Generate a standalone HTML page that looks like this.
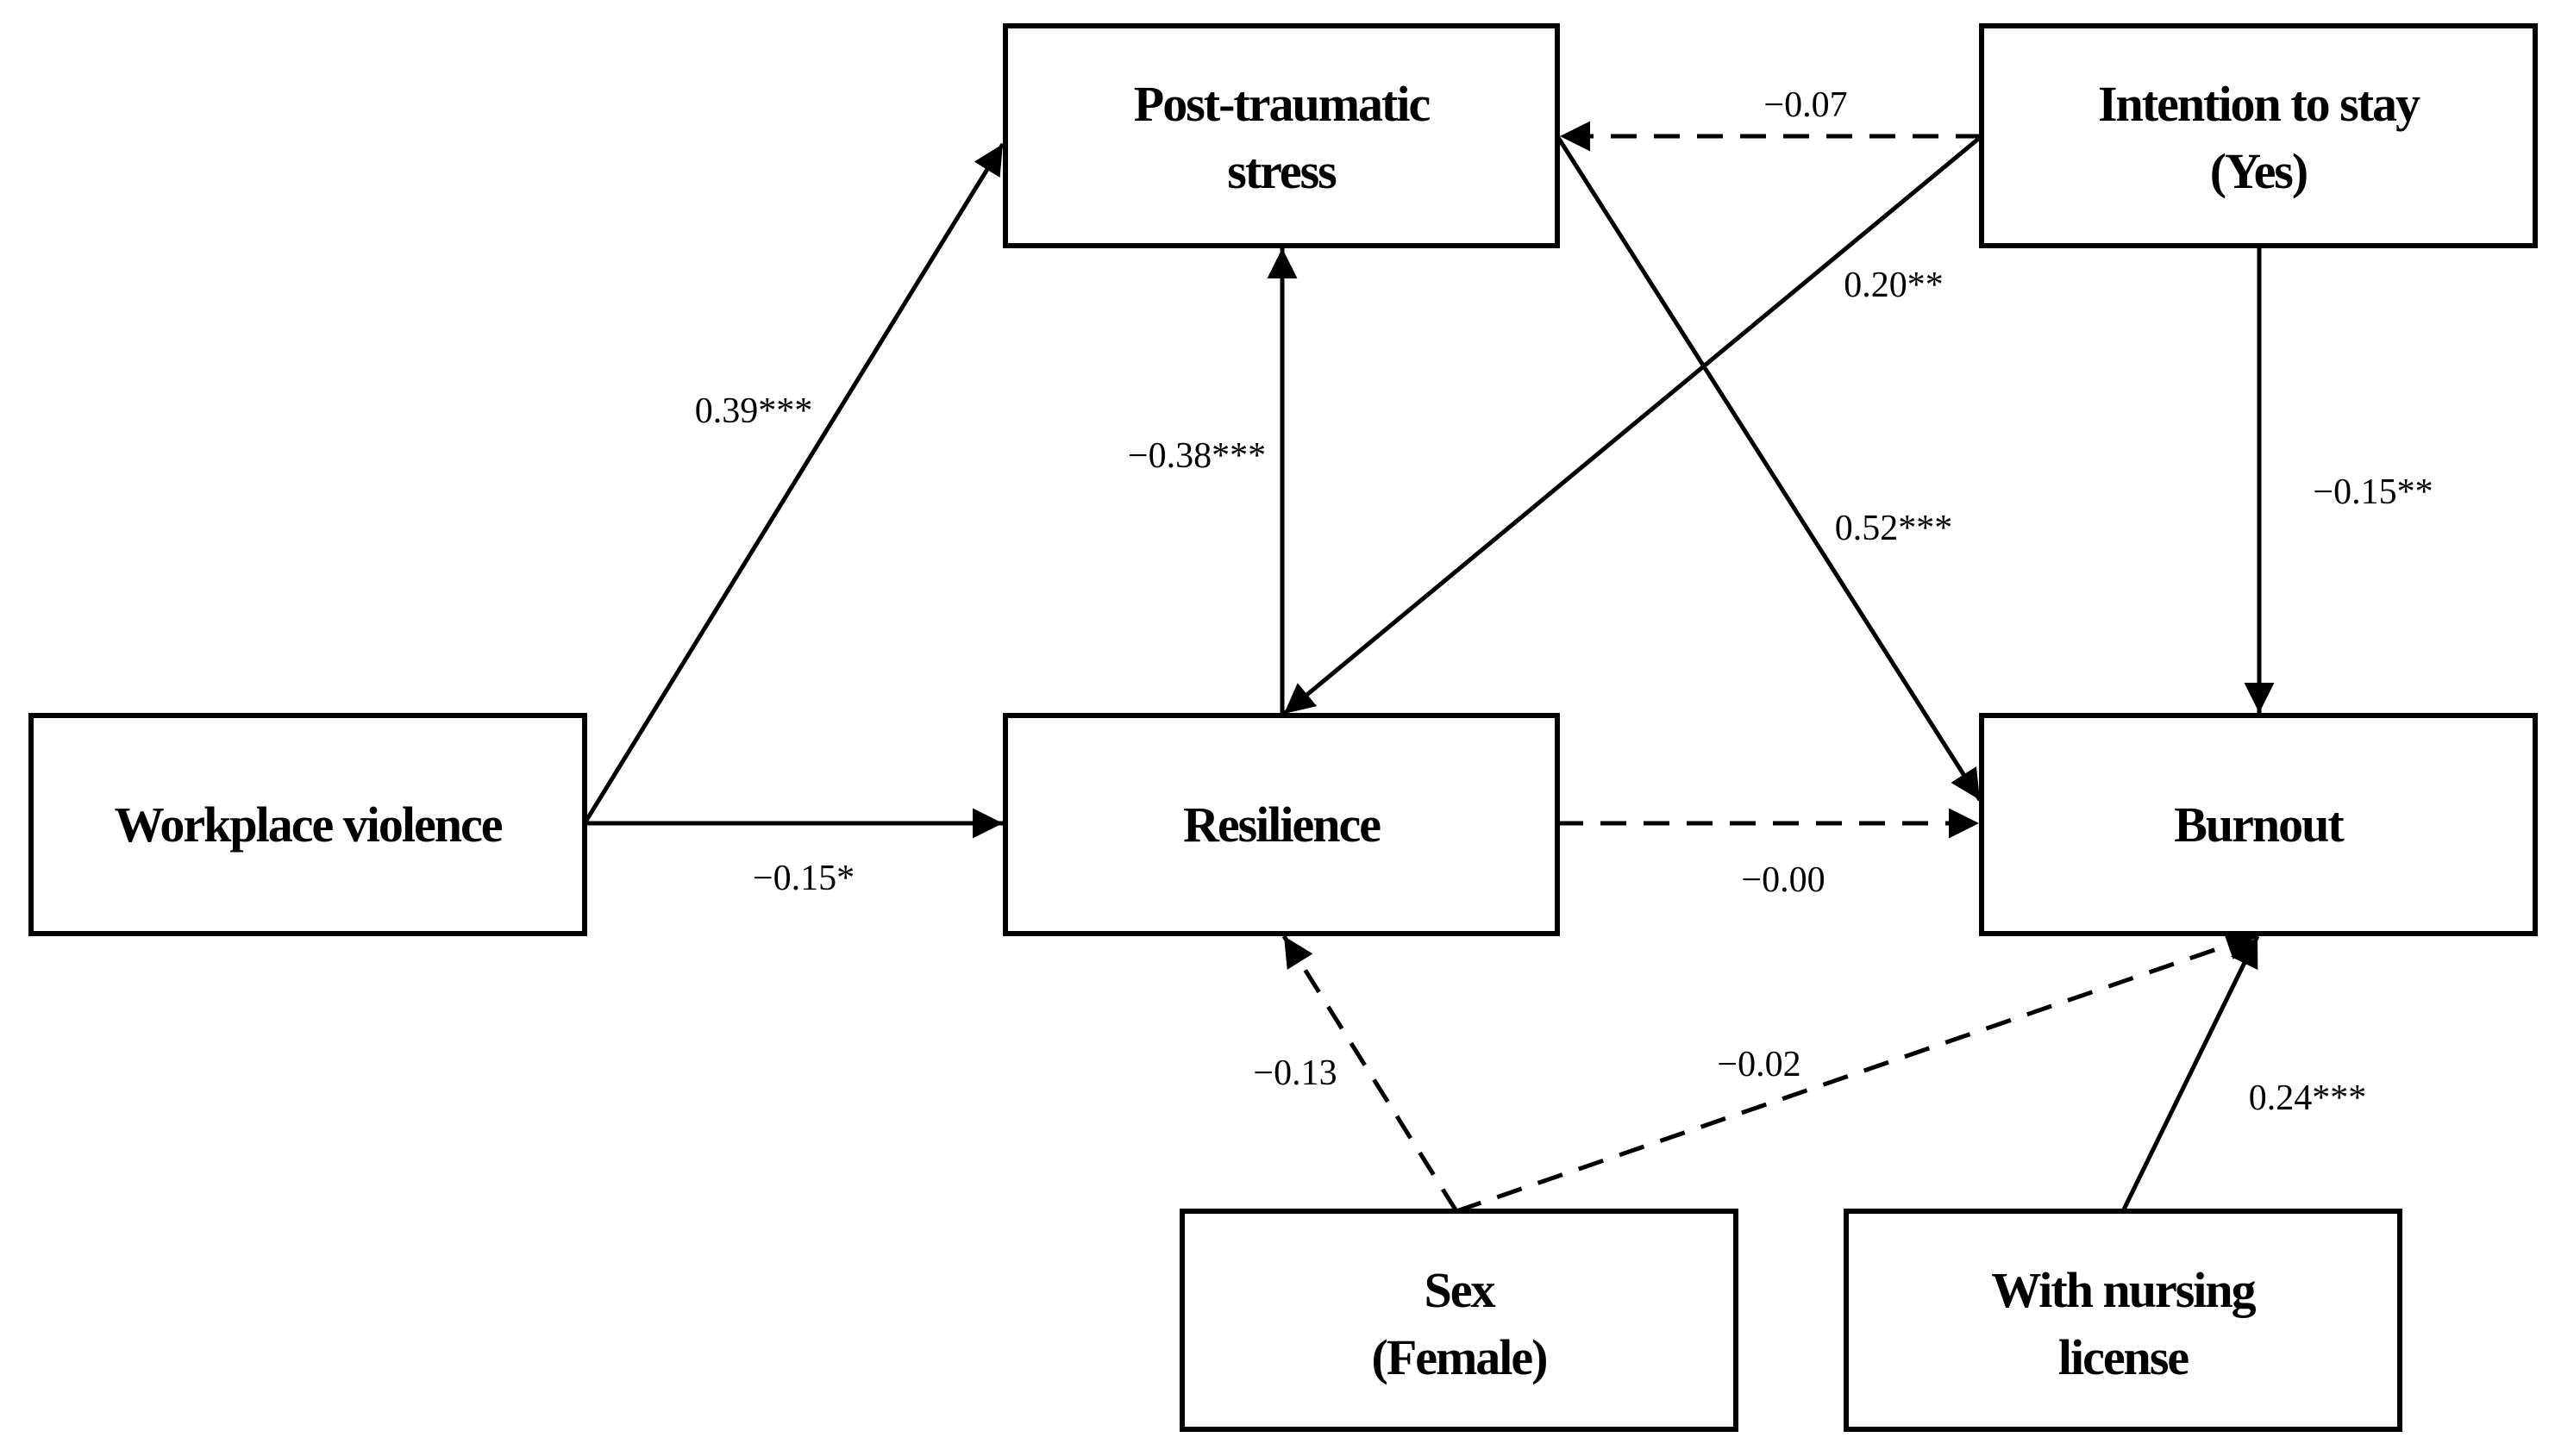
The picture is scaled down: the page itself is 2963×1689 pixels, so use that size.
<!DOCTYPE html>
<html><head><style>
html,body{margin:0;padding:0;background:#fff;}
svg{display:block;}
.box{fill:#fff;stroke:#000;stroke-width:6;}
.bt{font-family:"Liberation Serif",serif;font-weight:bold;font-size:58px;text-anchor:middle;letter-spacing:-2px;}
.et{font-family:"Liberation Serif",serif;font-size:42px;text-anchor:middle;}
.ln{stroke:#000;stroke-width:5;fill:none;}
.ds{stroke-dasharray:30 20;}
</style></head><body>
<svg width="2963" height="1689" viewBox="0 0 2963 1689" xmlns="http://www.w3.org/2000/svg">
<defs>
<marker id="a" viewBox="0 0 10 10" refX="10" refY="5" markerWidth="7" markerHeight="7" markerUnits="strokeWidth" orient="auto">
<path d="M0,0 L10,5 L0,10 z" fill="#000"/>
</marker>
</defs>
<rect class="box" x="1166" y="30" width="640" height="255"/>
<rect class="box" x="2298" y="30" width="642" height="255"/>
<rect class="box" x="36" y="830" width="642" height="253"/>
<rect class="box" x="1166" y="830" width="640" height="253"/>
<rect class="box" x="2298" y="830" width="642" height="253"/>
<rect class="box" x="1371" y="1405" width="642" height="253"/>
<rect class="box" x="2141" y="1405" width="642" height="253"/>

<text class="bt" x="1486" y="140">Post-traumatic</text>
<text class="bt" x="1486" y="218">stress</text>
<text class="bt" x="2619" y="140">Intention to stay</text>
<text class="bt" x="2619" y="218">(Yes)</text>
<text class="bt" x="357" y="976">Workplace violence</text>
<text class="bt" x="1486" y="976">Resilience</text>
<text class="bt" x="2619" y="976">Burnout</text>
<text class="bt" x="1692" y="1516">Sex</text>
<text class="bt" x="1692" y="1594">(Female)</text>
<text class="bt" x="2462" y="1516">With nursing</text>
<text class="bt" x="2462" y="1594">license</text>

<line class="ln" x1="678" y1="955" x2="1163" y2="167" marker-end="url(#a)"/>
<line class="ln" x1="678" y1="955" x2="1163" y2="955" marker-end="url(#a)"/>
<line class="ln" x1="1487" y1="830" x2="1487" y2="288" marker-end="url(#a)"/>
<line class="ln ds" x1="2298" y1="158" x2="1809" y2="158" marker-end="url(#a)"/>
<line class="ln" x1="2298" y1="158" x2="1489" y2="828" marker-end="url(#a)"/>
<line class="ln" x1="1806" y1="158" x2="2296" y2="928" marker-end="url(#a)"/>
<line class="ln" x1="2620" y1="285" x2="2620" y2="827" marker-end="url(#a)"/>
<line class="ln ds" x1="1806" y1="955" x2="2295" y2="955" marker-end="url(#a)"/>
<line class="ln ds" x1="1689" y1="1405" x2="1489" y2="1086" marker-end="url(#a)"/>
<line class="ln ds" x1="1689" y1="1405" x2="2617" y2="1085" marker-end="url(#a)"/>
<line class="ln" x1="2462" y1="1405" x2="2618" y2="1086" marker-end="url(#a)"/>

<text class="et" x="874" y="490">0.39***</text>
<text class="et" x="932" y="1032">−0.15*</text>
<text class="et" x="1388" y="542">−0.38***</text>
<text class="et" x="2094" y="135">−0.07</text>
<text class="et" x="2196" y="344">0.20**</text>
<text class="et" x="2196" y="626">0.52***</text>
<text class="et" x="2752" y="584">−0.15**</text>
<text class="et" x="2068" y="1034">−0.00</text>
<text class="et" x="1502" y="1258">−0.13</text>
<text class="et" x="2040" y="1248">−0.02</text>
<text class="et" x="2676" y="1287">0.24***</text>
</svg>
</body></html>
